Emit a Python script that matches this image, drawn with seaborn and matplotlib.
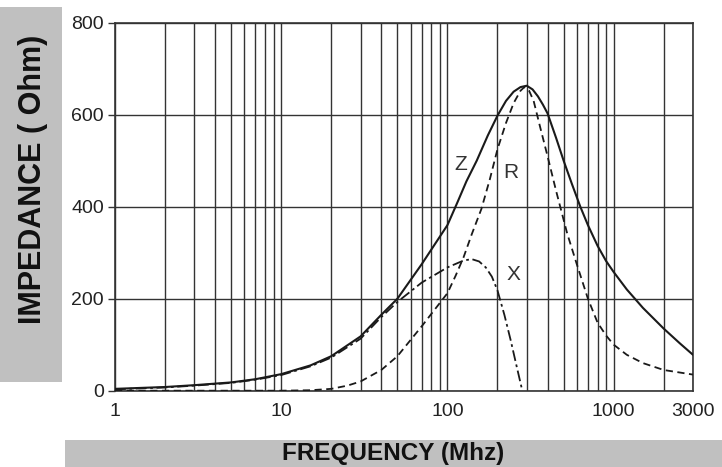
import pandas as pd
import seaborn as sns
import matplotlib.pyplot as plt
from matplotlib.patches import Rectangle
from matplotlib.ticker import FixedLocator, NullFormatter

# values (MHz, Ohm)
z_freq = [1, 2, 3, 5, 7, 10, 15, 20, 30, 40, 50, 70, 100, 115, 130, 150, 175, 200, 225, 250,
          275, 300, 325, 350, 375, 400, 450, 500, 560, 630, 700, 800, 900, 1000, 1200, 1500,
          2000, 2500, 3000]
z_ohm = [4, 8, 12, 18, 25, 36, 55, 75, 118, 165, 200, 275, 360, 410, 455, 500, 555, 598, 630, 650,
         660, 663, 655, 640, 622, 603, 550, 500, 450, 400, 360, 315, 282, 258, 220, 180,
         135, 103, 78]

r_freq = [1, 5, 10, 15, 20, 25, 30, 40, 50, 70, 100, 112, 125, 140, 160, 180, 200, 225, 250,
          275, 290, 310, 330, 360, 400, 450, 525, 600, 700, 800, 900, 1000, 1200, 1500, 2000, 3000]
r_ohm = [0, 0, 0, 1, 4, 11, 20, 45, 75, 140, 212, 250, 290, 340, 395, 460, 525, 582, 625,
         652, 660, 652, 630, 575, 510, 435, 342, 275, 200, 148, 120, 100, 78, 60, 45, 35]

x_freq = [1, 2, 3, 5, 7, 10, 15, 20, 30, 40, 50, 70, 100, 125, 140, 155, 170, 185, 200, 220,
          240, 260, 273, 282]
x_ohm = [3, 7, 11, 17, 24, 34, 53, 72, 113, 160, 193, 235, 268, 283, 286, 281, 268, 248, 218, 165,
         110, 55, 22, 0]

x_ticks = [1, 10, 100, 1000, 3000]
x_minor = [2, 3, 4, 5, 6, 7, 8, 9, 20, 30, 40, 50, 60, 70, 80, 90,
           200, 300, 400, 500, 600, 700, 800, 900, 2000]
y_ticks = [0, 200, 400, 600, 800]

sns.set_style("white")
plt.rcParams["font.family"] = ["Liberation Sans", "DejaVu Sans"]

ink = "#1a1a1a"
fig = plt.figure(figsize=(7.22, 4.67), dpi=100)
ax = fig.add_axes([0.1593, 0.1634, 0.8005, 0.788])

# gray label bands
fig.add_artist(Rectangle((0, 0.182), 0.0859, 0.803, transform=fig.transFigure,
                         facecolor="#c0c0c0", edgecolor="none", zorder=0))
fig.add_artist(Rectangle((0.09, 0), 0.91, 0.058, transform=fig.transFigure,
                         facecolor="#c0c0c0", edgecolor="none", zorder=0))

z_df = pd.DataFrame({"freq": z_freq, "ohm": z_ohm})
r_df = pd.DataFrame({"freq": r_freq, "ohm": r_ohm})
x_df = pd.DataFrame({"freq": x_freq, "ohm": x_ohm})

sns.lineplot(data=z_df, x="freq", y="ohm", ax=ax, color=ink, lw=1.5, zorder=3)
sns.lineplot(data=r_df, x="freq", y="ohm", ax=ax, color=ink, lw=1.3, zorder=3,
             linestyle=(0, (4, 2.5)))
sns.lineplot(data=x_df, x="freq", y="ohm", ax=ax, color=ink, lw=1.3, zorder=3,
             linestyle=(0, (6, 2, 1.5, 2)))

ax.set_xscale("log")
ax.set_xlim(1, 3000)
ax.set_ylim(0, 800)
ax.xaxis.set_major_locator(FixedLocator(x_ticks))
ax.set_xticklabels([str(t) for t in x_ticks])
ax.xaxis.set_minor_locator(FixedLocator(x_minor))
ax.xaxis.set_minor_formatter(NullFormatter())
ax.set_yticks(y_ticks)
ax.set_yticklabels([str(t) for t in y_ticks])

ax.grid(True, axis="x", which="both", color="#333333", lw=1.0)
ax.grid(True, axis="y", which="major", color="#333333", lw=1.0)
ax.tick_params(axis="x", which="both", length=0, pad=9, labelsize=14, labelcolor="#222222")
ax.tick_params(axis="y", length=5, width=1, color="#333333", pad=3, labelsize=14,
               labelcolor="#222222", left=True)
for s in ax.spines.values():
    s.set_color("#333333")
    s.set_linewidth(1.2)

ax.set_xlabel("")
ax.set_ylabel("")

ax.text(121, 491, "Z", ha="center", va="center", fontsize=15, color="#333333")
ax.text(241, 475, "R", ha="center", va="center", fontsize=15, color="#333333")
ax.text(248, 252, "X", ha="center", va="center", fontsize=15, color="#333333")

fig.text(0.046, 0.615, "IMPEDANCE ( Ohm)", rotation=90, ha="center", va="center",
         fontsize=22, fontweight="bold", color="#111111")
fig.text(0.544, 0.029, "FREQUENCY (Mhz)", ha="center", va="center",
         fontsize=17.5, fontweight="bold", color="#111111")

fig.savefig("out.png", dpi=100)
